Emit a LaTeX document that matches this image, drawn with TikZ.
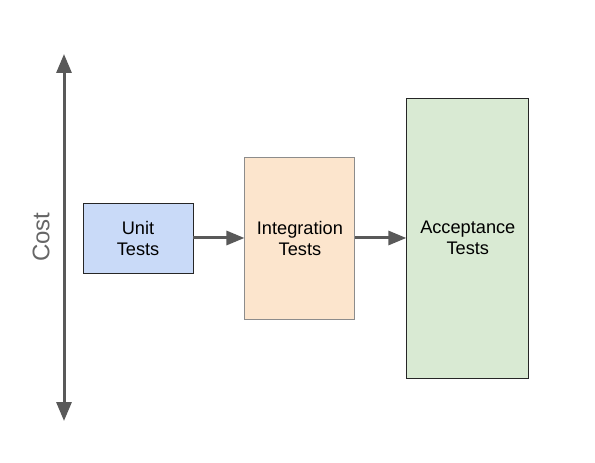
\documentclass[tikz,border=0pt]{standalone}
\usepackage{fontspec}
\setmainfont{Liberation Sans}
\usetikzlibrary{positioning,arrows.meta}
\definecolor{unitblue}{HTML}{C9DAF8}
\definecolor{integorange}{HTML}{FCE5CD}
\definecolor{accgreen}{HTML}{D9EAD3}
\definecolor{arrowgrey}{HTML}{595959}

\begin{document}
\begin{tikzpicture}[x=1bp, y=-1bp, node distance=51bp, >={Triangle[length=18bp, width=14bp]},
  every node/.style={font=\fontsize{18.2bp}{21bp}\selectfont},
  box/.style={draw=black!85, line width=0.9bp, align=center, inner sep=0pt, minimum width=110bp},
  arr/.style={->, line width=3bp, draw=arrowgrey}]
\useasboundingbox (0,0) rectangle (595,463);
\node[box, fill=unitblue, minimum height=70bp] (unit) at (138,238) {Unit\\Tests};
\node[box, fill=integorange, draw=black!45, minimum height=162bp, right=of unit] (integ) {Integration\\Tests};
\node[box, fill=accgreen, minimum width=122bp, minimum height=280bp, right=of integ] (accept) {Acceptance\\Tests};
\coordinate (costtop) at (64,54);
\coordinate (costbot) at (64,421);
\draw[arr, <->, >={Triangle[length=19bp, width=15bp]}] (costtop) -- (costbot);
\node[rotate=90, text=black!60, font=\fontsize{24bp}{28bp}\selectfont] (cost) at (41,237) {Cost};
\foreach \a/\b in {unit/integ, integ/accept} \draw[arr] (\a) -- (\b);
\end{tikzpicture}
\end{document}
